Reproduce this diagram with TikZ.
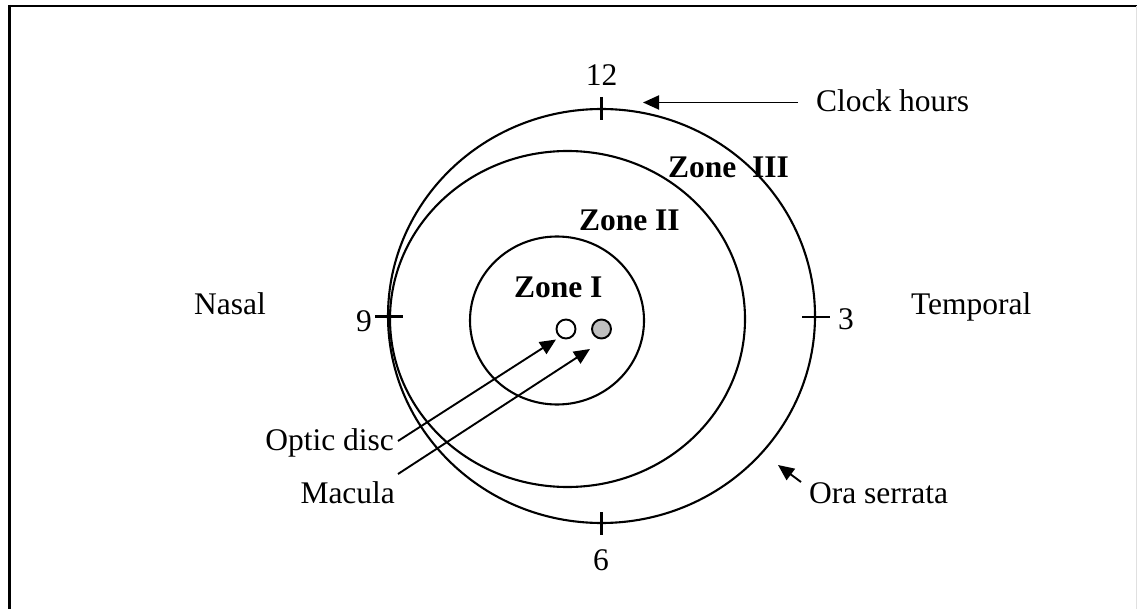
\documentclass[tikz,border=0pt]{standalone}
\usepackage{fontspec}
\setmainfont{Liberation Serif}
\usetikzlibrary{arrows.meta}
\begin{document}
\begin{tikzpicture}[x=1pt,y=-1pt,
  line width=2.1pt,
  lbl/.style={inner sep=0pt,font=\fontsize{31.5}{36}\selectfont},
  zone/.style={lbl,font=\fontsize{31.5}{36}\selectfont\bfseries},
  ptr/.style={line width=1.9pt,-{Triangle[length=16pt,width=14pt]}},
  tick/.style={line width=2.2pt}]
  \useasboundingbox (0,0) rectangle (1137,609);
  % page frame
  \draw[line width=2.6pt] (8,6) -- (1137,6);
  \draw[line width=3pt] (9.5,5) -- (9.5,609);
  \draw[line width=1pt,black!12] (1136.5,6) -- (1136.5,609);

  % retina outline (ora serrata) and zones
  \coordinate (oc) at (601.5,316);
  \coordinate (c2) at (567.5,319);
  \coordinate (c1) at (557,320.5);
  \draw (oc) ellipse [x radius=213.5, y radius=207];
  \draw (c2) ellipse [x radius=177.5, y radius=168];
  \draw (c1) ellipse [x radius=87, y radius=84];

  % optic disc and macula
  \node[circle,draw,line width=1.9pt,minimum size=19pt,inner sep=0pt,fill=white] (od) at (566,329) {};
  \node[circle,draw,line width=1.9pt,minimum size=19pt,inner sep=0pt,fill=black!25] (mac) at (601.5,329) {};

  % clock-hour ticks
  \coordinate (t12a) at (601.5,97); \coordinate (t12b) at (601.5,120);
  \coordinate (t6a) at (601.5,512);  \coordinate (t6b) at (601.5,535);
  \coordinate (t9a) at (375,316.5);  \coordinate (t9b) at (403,316.5);
  \coordinate (t3a) at (802,317);    \coordinate (t3b) at (830,317);
  \draw[tick] (t12a) -- (t12b);
  \draw[tick] (t6a) -- (t6b);
  \draw[tick] (t9a) -- (t9b);
  \draw[tick] (t3a) -- (t3b);

  % labels
  \node[lbl,anchor=base] (h12) at (601.5,86) {12};
  \node[lbl,anchor=base] (h6) at (601,570) {6};
  \node[lbl,anchor=base east] (h9) at (373,331) {9};
  \node[lbl,anchor=base west] (h3) at (837,330) {3};
  \node[lbl,anchor=base west] (nasal) at (193,315) {Nasal};
  \node[lbl,anchor=base west] (temp) at (910,315) {Temporal};
  \node[zone,anchor=base west] (z1) at (513,298) {Zone I};
  \node[zone,anchor=base west] (z2) at (578,231) {Zone II};
  \node[zone,anchor=base west] (z3) at (667,178) {Zone\ \ III};
  \node[lbl,anchor=base west] (clock) at (815,112) {Clock hours};
  \node[lbl,anchor=base east] (optic) at (395,450) {Optic disc};
  \node[lbl,anchor=base east] (macula) at (396,503) {Macula};
  \node[lbl,anchor=base west] (ora) at (808,503) {Ora serrata};

  % pointers
  \coordinate (clockend) at (798,102.5);
  \coordinate (clocktip) at (643,102.5);
  \draw[ptr] (clockend) -- (clocktip);
  \coordinate (opticend) at (398,441);
  \coordinate (optictip) at (556,339.5);
  \draw[ptr] (opticend) -- (optictip);
  \coordinate (macend) at (398,474);
  \coordinate (mactip) at (590,349);
  \draw[ptr] (macend) -- (mactip);
  \coordinate (oraend) at (801,482);
  \coordinate (oratip) at (778,465);
  \draw[ptr] (oraend) -- (oratip);
\end{tikzpicture}
\end{document}
